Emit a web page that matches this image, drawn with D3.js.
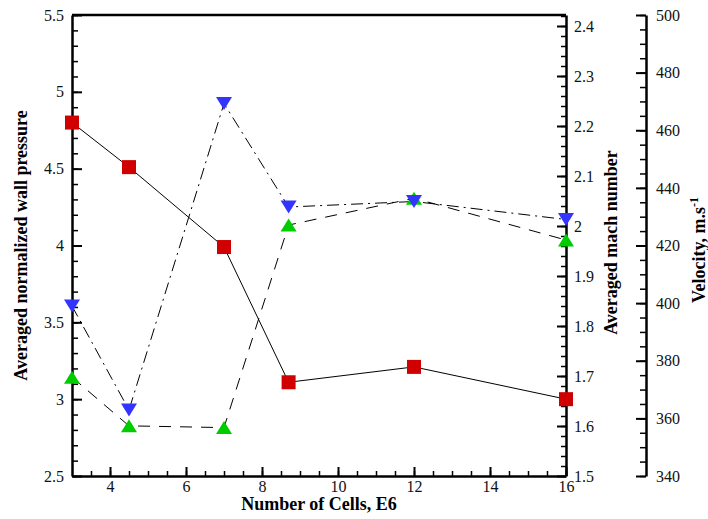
<!DOCTYPE html>
<html><head><meta charset="utf-8">
<script src="https://cdn.jsdelivr.net/npm/d3@7"></script>
<style>
body{margin:0;background:#fff}
svg text{font-family:"Liberation Serif","Times New Roman",serif !important}
</style>
</head><body>
<svg id="c" width="708" height="519"></svg>
<script>
// ---- data ----
const cells = [3, 4.5, 7, 8.7, 12, 16];
const wallPressure = [4.80, 4.51, 3.99, 3.11, 3.21, 3.00];
const machNumber = [1.84, 1.632, 2.245, 2.038, 2.049, 2.013];
const velocity = [374.3, 357.4, 356.8, 427.1, 436.4, 421.9];

const xTicks = [4, 6, 8, 10, 12, 14, 16];
const pressureTicks = [2.5, 3, 3.5, 4, 4.5, 5, 5.5];
const machTicks = [1.5, 1.6, 1.7, 1.8, 1.9, 2.0, 2.1, 2.2, 2.3, 2.4];
const velocityTicks = [340, 360, 380, 400, 420, 440, 460, 480, 500];

const xTitle = "Number of Cells, E6";
const pTitle = "Averaged normalized wall pressure";
const mTitle = "Averaged mach number";
const vTitle = "Velocity, m.s";

// ---- layout ----
const L = 72, R = 566, T = 15, B = 476, VX = 646;
const FONT = '"Liberation Serif","Times New Roman",serif';
const svg = d3.select("#c");

const x = d3.scaleLinear([3, 16], [L, R]);
const yP = d3.scaleLinear([2.5, 5.5], [B, T]);
const yM = d3.scaleLinear([1.5, 2.422], [B, T]);
const yV = d3.scaleLinear([340, 500], [B, T]);

const range = (a, b, s) => d3.range(Math.round((b - a) / s) + 1).map(i => +(a + i * s).toFixed(4));

function styleAxis(g, major) {
  g.attr("font-family", null).attr("font-size", null);
  g.selectAll(".tick line").attr("stroke", "#000").attr("stroke-width", major ? 2 : 1.5);
  g.selectAll(".tick text").style("font-size", "16px").attr("fill", "#111")
    .style("font-family", FONT);
  g.select(".domain").attr("stroke", "#000").attr("stroke-width", 2.5);
}

const minor = (axis, tickVals, size) => axis.tickValues(tickVals).tickSizeInner(size).tickSizeOuter(0).tickFormat("");

// X axis
svg.append("g").attr("transform", `translate(0,${B})`)
  .call(minor(d3.axisBottom(x), range(3.5, 16, 0.5), -5))
  .call(g => { g.select(".domain").remove(); styleAxis(g, false); });
svg.append("g").attr("transform", `translate(0,${B})`)
  .call(d3.axisBottom(x).tickValues(xTicks).tickSizeInner(-9).tickSizeOuter(0).tickPadding(5).tickFormat(d3.format("d")))
  .call(g => styleAxis(g, true));

// Left axis (pressure)
svg.append("g").attr("transform", `translate(${L},0)`)
  .call(minor(d3.axisLeft(yP), range(2.5, 5.5, 0.1), -6))
  .call(g => { g.select(".domain").remove(); styleAxis(g, false); });
svg.append("g").attr("transform", `translate(${L},0)`)
  .call(d3.axisLeft(yP).tickValues(pressureTicks).tickSizeInner(-10).tickSizeOuter(0).tickPadding(8).tickFormat(d => String(d)))
  .call(g => styleAxis(g, true));

// Right axis (mach)
svg.append("g").attr("transform", `translate(${R},0)`)
  .call(minor(d3.axisRight(yM), range(1.5, 2.42, 0.02), -5))
  .call(g => { g.select(".domain").remove(); styleAxis(g, false); });
svg.append("g").attr("transform", `translate(${R},0)`)
  .call(d3.axisRight(yM).tickValues(machTicks).tickSizeInner(-9).tickSizeOuter(0).tickPadding(8).tickFormat(d => String(d)))
  .call(g => styleAxis(g, true));

// Velocity axis
svg.append("g").attr("transform", `translate(${VX},0)`)
  .call(minor(d3.axisRight(yV), range(340, 500, 5), -6))
  .call(g => { g.select(".domain").remove(); styleAxis(g, false); });
svg.append("g").attr("transform", `translate(${VX},0)`)
  .call(d3.axisRight(yV).tickValues(velocityTicks).tickSizeInner(-10).tickSizeOuter(0).tickPadding(10).tickFormat(d => String(d)))
  .call(g => styleAxis(g, true));

// top border
svg.append("line").attr("x1", L).attr("x2", R).attr("y1", T).attr("y2", T)
  .attr("stroke", "#000").attr("stroke-width", 2.5);

// ---- lines ----
const mk = (ys, vals) => d3.line().x((d, i) => x(cells[i])).y((d, i) => ys(vals[i]));
svg.append("path").attr("d", mk(yP, wallPressure)(cells)).attr("fill", "none")
  .attr("stroke", "#000").attr("stroke-width", 1);
svg.append("path").attr("d", mk(yV, velocity)(cells)).attr("fill", "none")
  .attr("stroke", "#000").attr("stroke-width", 1).attr("stroke-dasharray", "12,9");
svg.append("path").attr("d", mk(yM, machNumber)(cells)).attr("fill", "none")
  .attr("stroke", "#000").attr("stroke-width", 1).attr("stroke-dasharray", "12,5,2,5");

// ---- markers ----
svg.append("g").selectAll("rect").data(cells).join("rect")
  .attr("x", (d, i) => x(d) - 7).attr("y", (d, i) => yP(wallPressure[i]) - 7)
  .attr("width", 14).attr("height", 14).attr("fill", "#d00000");
svg.append("g").selectAll("path").data(cells).join("path")
  .attr("transform", (d, i) => `translate(${x(d)},${yV(velocity[i])})`)
  .attr("d", "M-8,6.5L8,6.5L0,-6.5Z").attr("fill", "#00cc00");
svg.append("g").selectAll("path").data(cells).join("path")
  .attr("transform", (d, i) => `translate(${x(d)},${yM(machNumber[i])})`)
  .attr("d", "M-8,-6.5L8,-6.5L0,6.5Z").attr("fill", "#3434ff");

// ---- titles ----
const title = sel => sel.style("font-family", FONT).style("font-size", "18px").attr("font-weight", "bold").attr("fill", "#000");
svg.append("text").attr("x", (L + R) / 2).attr("y", 510).attr("text-anchor", "middle")
  .call(title).text(xTitle);
svg.append("text").attr("transform", `translate(27,${(T + B) / 2}) rotate(-90)`)
  .attr("text-anchor", "middle").call(title).text(pTitle);
svg.append("text").attr("transform", `translate(617,${(T + B) / 2 - 3}) rotate(-90)`)
  .attr("text-anchor", "middle").call(title).text(mTitle);
const vt = svg.append("text").attr("transform", `translate(705,250) rotate(-90)`)
  .attr("text-anchor", "middle").call(title);
vt.append("tspan").text(vTitle);
vt.append("tspan").attr("dy", -7).style("font-size", "12px").text("-1");
</script>
</body></html>
